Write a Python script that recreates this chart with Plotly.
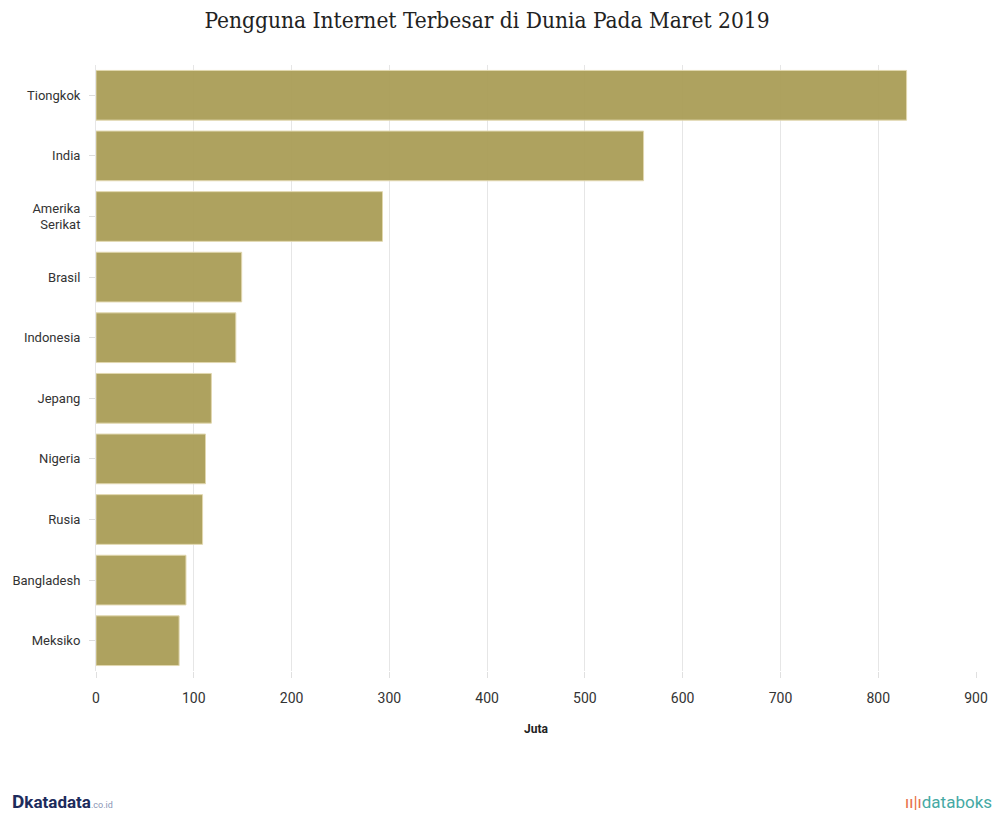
import plotly.graph_objects as go

countries = ["Tiongkok", "India", "Amerika<br>Serikat", "Brasil", "Indonesia",
             "Jepang", "Nigeria", "Rusia", "Bangladesh", "Meksiko"]
users = [829, 560, 293, 149, 143, 118, 112, 109, 92, 85]
x_ticks = [0, 100, 200, 300, 400, 500, 600, 700, 800, 900]

fig = go.Figure()
fig.add_trace(go.Bar(
    x=users, y=countries, orientation="h",
    marker=dict(color="rgba(170,157,86,0.95)",
                line=dict(color="rgba(225,215,175,1)", width=1)),
    hoverinfo="x+y",
))

fig.update_layout(
    width=1000, height=814,
    margin=dict(l=96, r=21, t=65, b=143),
    paper_bgcolor="white", plot_bgcolor="white",
    bargap=0.18,
    showlegend=False,
    title=dict(text="Pengguna Internet Terbesar di Dunia Pada Maret 2019",
               x=0.487, xanchor="center", y=0.975, yanchor="middle",
               font=dict(family="DejaVu Serif Condensed, Liberation Serif, serif", size=22.5, color="#222")),
    font=dict(family="Roboto, sans-serif", color="#333"),
    xaxis=dict(range=[0, 900], tickvals=x_ticks, showgrid=True,
               gridcolor="#e6e6e6", gridwidth=1, zeroline=False,
               ticks="outside", ticklen=6, tickcolor="#e0e0e0",
               tickfont=dict(size=14, color="#333"), ticklabelstandoff=8,
               title=dict(text="<b>Juta</b>", font=dict(size=12, color="#222"), standoff=19),
               showline=False),
    yaxis=dict(autorange="reversed", categoryorder="array", categoryarray=countries,
               ticks="outside", ticklen=6, tickcolor="#dddddd",
               tickfont=dict(size=13, color="#333"), ticklabelstandoff=6,
               showline=True, linecolor="#e6e6e6", linewidth=1, showgrid=False),
)

plot_w = 1000 - 96 - 21
fig.add_annotation(text="<b><span style='font-size:19px'>D</span>katadata</b><span style='font-size:9px;color:#8a95b5'>.co.id</span>",
                   xref="paper", yref="paper", x=-86/plot_w, y=-0.216, xanchor="left", yanchor="middle",
                   showarrow=False, font=dict(family="Roboto, sans-serif", size=17, color="#1d2c5c"))
fig.add_annotation(text="<span style='color:#e8704a'>ıı|ı</span>databoks",
                   xref="paper", yref="paper", x=1 + 18/plot_w, y=-0.216, xanchor="right", yanchor="middle",
                   showarrow=False, font=dict(family="Roboto, sans-serif", size=17, color="#45a9a4"))

fig.write_html("out.html")
